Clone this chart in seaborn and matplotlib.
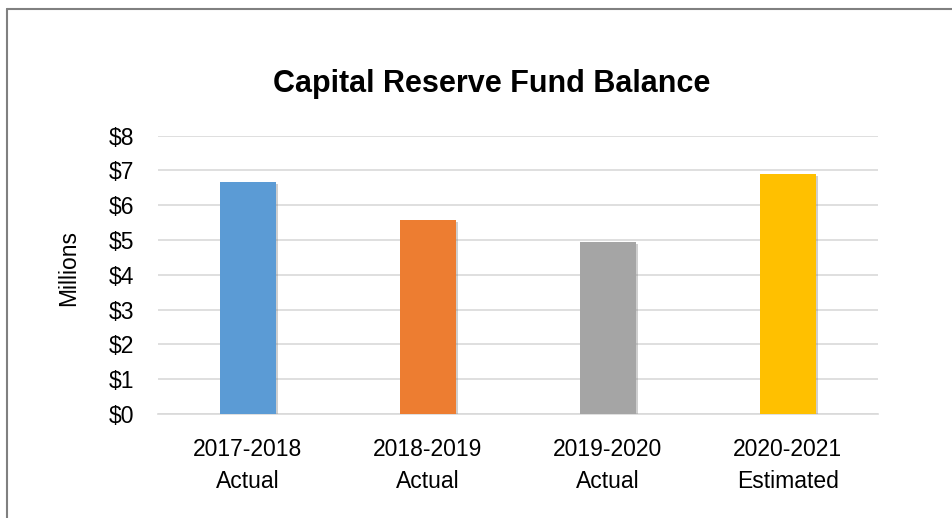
"""Capital Reserve Fund Balance bar chart."""

import matplotlib
matplotlib.use("Agg")
import matplotlib.pyplot as plt
import matplotlib.patheffects as pe
from matplotlib.lines import Line2D
import pandas as pd
import seaborn as sns

# data
categories = ["2017-2018\nActual", "2018-2019\nActual", "2019-2020\nActual", "2020-2021\nEstimated"]
balance_millions = [6.66, 5.58, 4.95, 6.89]
bar_colors = ["#5B9BD5", "#ED7D31", "#A5A5A5", "#FFC000"]
y_ticks = [0, 1, 2, 3, 4, 5, 6, 7, 8]
y_tick_labels = [f"${v}" for v in y_ticks]

df = pd.DataFrame({"period": categories, "balance": balance_millions})

sns.set_style("white")
plt.rcParams["font.family"] = ["Liberation Sans", "DejaVu Sans"]
plt.rcParams["text.color"] = "black"
plt.rcParams["xtick.color"] = "black"
plt.rcParams["ytick.color"] = "black"
plt.rcParams["axes.labelcolor"] = "black"

fig = plt.figure(figsize=(9.52, 5.18), dpi=100)
ax = fig.add_axes([0.166, 0.2008, 0.756, 0.5372])

sns.barplot(
    data=df,
    x="period",
    y="balance",
    hue="period",
    palette=bar_colors,
    saturation=1,
    width=0.31,
    legend=False,
    ax=ax,
    zorder=3,
)

# soft shadow on the bars
for patch in ax.patches:
    patch.set_edgecolor("none")
    patch.set_path_effects(
        [pe.SimplePatchShadow(offset=(1.5, -1.5), shadow_rgbFace="#888888", alpha=0.4), pe.Normal()]
    )

ax.set_ylim(0, 8)
ax.set_yticks(y_ticks)
ax.set_yticklabels(y_tick_labels, fontsize=16.5)
ax.tick_params(axis="y", length=0, pad=17.5)
ax.tick_params(axis="x", labelsize=16.5, length=0, pad=17)
for lbl in ax.get_xticklabels():
    lbl.set_linespacing(1.55)
ax.grid(axis="y", color="#D9D9D9", linewidth=1.2, zorder=0)
ax.set_axisbelow(True)

for side in ["top", "right", "left"]:
    ax.spines[side].set_visible(False)
ax.spines["bottom"].set_color("#D9D9D9")
ax.spines["bottom"].set_linewidth(1.2)

ax.set_xlabel("")
ax.set_ylabel("Millions", fontsize=16.5)
ax.yaxis.set_label_coords(-0.108, 0.525)

fig.text(0.516, 0.822, "Capital Reserve Fund Balance", ha="center", va="baseline",
         fontsize=22, fontweight="bold")

# frame lines at the top and left, as in the cropped screenshot
fig.add_artist(Line2D([0.007, 1.0], [0.982, 0.982], color="#808080", linewidth=1.5, transform=fig.transFigure))
fig.add_artist(Line2D([0.007, 0.007], [0.0, 0.982], color="#808080", linewidth=1.5, transform=fig.transFigure))

fig.savefig("out.png", dpi=100)
plt.close()
